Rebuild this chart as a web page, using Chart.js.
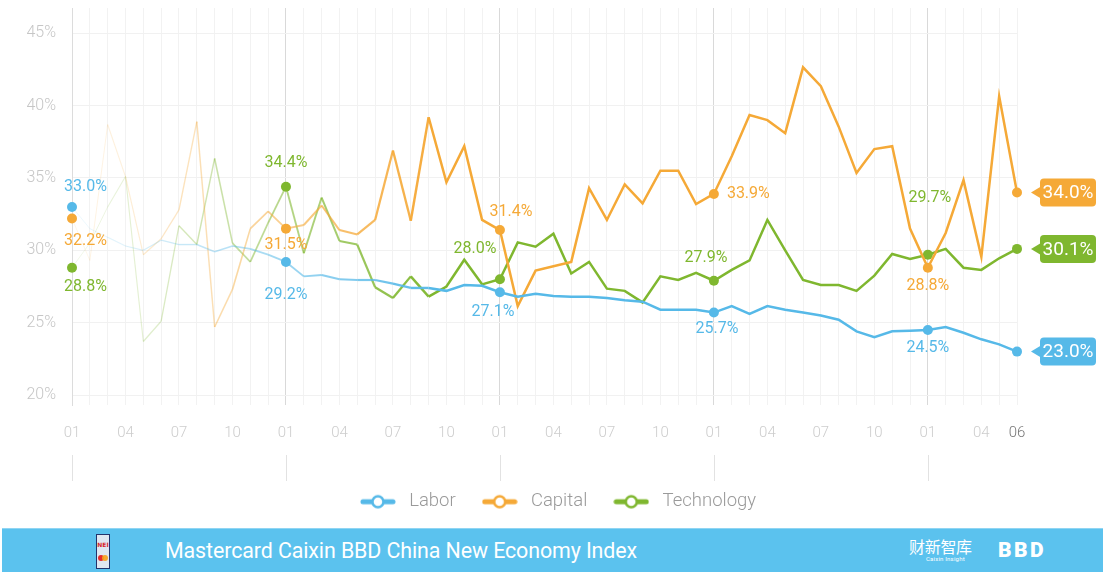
<!DOCTYPE html>
<html>
<head>
<meta charset="utf-8">
<title>China New Economy Index - input shares</title>
<script src="https://cdn.jsdelivr.net/npm/chart.js@4.4.0/dist/chart.umd.min.js"></script>
<style>
  body { margin: 0; width: 1103px; height: 572px; overflow: hidden; position: relative; background: #fff; font-family: Roboto, "Open Sans", sans-serif; }
  #wrap { position: absolute; left: 0; top: 0; width: 1103px; height: 528px; }
  #footer { position: absolute; left: 2px; top: 528px; width: 1101px; height: 44px; background: #5bc2ee; color: #fff; border-top: 1px solid #8fd5f3; box-sizing: border-box; }
  #footer .title { position: absolute; left: 163px; top: 0; line-height: 43px; font-size: 21.4px; font-weight: 400; letter-spacing: -0.1px; }
  #footer .badge { position: absolute; left: 94px; top: 5px; width: 12px; height: 33px; background: #dfe7f1; border: 1px solid #23336b; }
  #footer .badge .nei { position: absolute; left: 0; top: 6px; width: 12px; text-align: center; font: bold 6px "DejaVu Sans", sans-serif; color: #d8232a; }
  #footer .badge .mc { position: absolute; top: 20px; width: 6px; height: 6px; border-radius: 50%; }
  #footer .cx { position: absolute; left: 907px; top: 7px; font: 16px "Noto Sans CJK SC", sans-serif; line-height: 20px; letter-spacing: -0.3px; }
  #footer .cx small { position: absolute; left: 17px; top: 19px; font: 6px Roboto, sans-serif; letter-spacing: 0.2px; white-space: nowrap; }
  #footer .bbd { position: absolute; left: 996px; top: 0; font: 900 21px Roboto, sans-serif; line-height: 43px; letter-spacing: 2.5px; }
</style>
</head>
<body>
<div id="wrap"><canvas id="chart"></canvas></div>
<div id="footer">
  <div class="badge"><div class="nei">NEI</div><div class="mc" style="left:1px;background:#e52d2d"></div><div class="mc" style="left:5px;background:#f7a21b;opacity:0.9"></div></div>
  <div class="title">Mastercard Caixin BBD China New Economy Index</div>
  <div class="cx">财新智库<small>Caixin Insight</small></div>
  <div class="bbd">BBD</div>
</div>
<script>
/* globals Chart */

var months = [
  '01','02','03','04','05','06','07','08','09','10','11','12',
  '01','02','03','04','05','06','07','08','09','10','11','12',
  '01','02','03','04','05','06','07','08','09','10','11','12',
  '01','02','03','04','05','06','07','08','09','10','11','12',
  '01','02','03','04','05','06'
]

// share of each input in the index, %
var labor = [
  33.0, 31.5, 30.9, 30.3, 30.0, 30.7, 30.4, 30.4, 29.9, 30.3, 30.1, 29.7,
  29.2, 28.2, 28.3, 28.0, 27.95, 27.95, 27.7, 27.4, 27.4, 27.2, 27.6, 27.55,
  27.1, 26.8, 27.0, 26.85, 26.8, 26.8, 26.7, 26.55, 26.45, 25.9, 25.9, 25.9,
  25.7, 26.15, 25.6, 26.15, 25.9, 25.7, 25.5, 25.2, 24.4, 24.0, 24.4, 24.45,
  24.5, 24.7, 24.3, 23.85, 23.5, 23.0
]

var capital = [
  32.2, 29.3, 38.7, 35.1, 29.7, 30.8, 32.8, 38.9, 24.7, 27.3, 31.5, 32.7,
  31.5, 31.75, 33.1, 31.4, 31.1, 32.1, 36.9, 32.05, 39.2, 34.7, 37.2, 32.1,
  31.4, 26.15, 28.6, 28.9, 29.2, 34.3, 32.1, 34.55, 33.25, 35.5, 35.5, 33.2,
  33.9, 36.5, 39.35, 39.0, 38.1, 42.65, 41.35, 38.55, 35.35, 37.0, 37.2, 31.5,
  28.8, 31.2, 34.85, 29.55, 40.65, 34.0
]

var technology = [
  28.8, 30.5, 33.0, 35.1, 23.7, 25.1, 31.7, 30.4, 36.35, 30.5, 29.2, 31.9,
  34.4, 29.8, 33.65, 30.65, 30.4, 27.45, 26.7, 28.2, 26.8, 27.5, 29.35, 27.65,
  28.0, 30.55, 30.25, 31.15, 28.4, 29.2, 27.35, 27.2, 26.4, 28.2, 27.95, 28.45,
  27.9, 28.65, 29.3, 32.1, 30.0, 27.95, 27.6, 27.6, 27.2, 28.25, 29.75, 29.4,
  29.7, 30.1, 28.8, 28.65, 29.45, 30.1
]

var yTicks = [20, 25, 30, 35, 40, 45]
var markIndexes = [0, 12, 24, 36, 48, 53]
var yearStarts = [0, 12, 24, 36, 48]

const BLUE = '#56b9e8'
const ORANGE = '#f5a937'
const GREEN = '#7fb72f'

// where the value text sits around each marked point (offsets in px)
var labelSpots = [
  [ {i: 0, dx: -8, dy: -20, align: 'left'}, {i: 12, dx: 0, dy: 33}, {i: 24, dx: -7, dy: 20}, {i: 36, dx: 3, dy: 16}, {i: 48, dx: 0, dy: 18} ],
  [ {i: 0, dx: -8, dy: 22, align: 'left'}, {i: 12, dx: 0, dy: 16}, {i: 24, dx: 11, dy: -18}, {i: 36, dx: 13, dy: 0, align: 'left'}, {i: 48, dx: 0, dy: 18} ],
  [ {i: 0, dx: -8, dy: 19, align: 'left'}, {i: 12, dx: 0, dy: -24}, {i: 24, dx: -25, dy: -30}, {i: 36, dx: -8, dy: -23}, {i: 48, dx: 2, dy: -57} ]
]

function rgba(hex, a){
  var n = parseInt(hex.slice(1), 16)
  return 'rgba(' + (n >> 16) + ',' + ((n >> 8) & 255) + ',' + (n & 255) + ',' + a + ')'
}

// older months are drawn thinner and paler
function fadeAlpha(i){ return Math.min(1, 0.12 + 0.88 * Math.pow(i / 20, 1.2)) }
function fadeWidth(i){ return Math.min(2.5, 0.9 + 1.6 * i / 20) }

function legendIcon(color){
  var c = document.createElement('canvas')
  c.width = 36
  c.height = 16
  var g = c.getContext('2d')
  g.strokeStyle = color
  g.lineWidth = 5
  g.lineCap = 'round'
  g.beginPath(); g.moveTo(3, 8); g.lineTo(33, 8); g.stroke()
  g.fillStyle = '#fff'
  g.lineWidth = 2.5
  g.beginPath(); g.arc(18, 8, 5.5, 0, Math.PI * 2); g.fill(); g.stroke()
  return c
}

var legendIcons = [legendIcon(BLUE), legendIcon(ORANGE), legendIcon(GREEN)]

function series(label, data, color){
  return {
    label: label,
    data: data,
    borderColor: color,
    backgroundColor: color,
    borderWidth: 2.5,
    tension: 0,
    fill: false,
    pointRadius: ctx => markIndexes.indexOf(ctx.dataIndex) >= 0 ? 5 : 0,
    pointHoverRadius: ctx => markIndexes.indexOf(ctx.dataIndex) >= 0 ? 5 : 0,
    pointBorderWidth: 0,
    pointBackgroundColor: color,
    segment: {
      borderColor: ctx => rgba(color, fadeAlpha(ctx.p0DataIndex)),
      borderWidth: ctx => fadeWidth(ctx.p0DataIndex)
    }
  }
}

// value texts + end-of-line callouts
const valueLabels = {
  id: 'valueLabels',
  afterDatasetsDraw(chart){
    const ctx = chart.ctx
    chart.data.datasets.forEach((ds, d) => {
      const meta = chart.getDatasetMeta(d)
      const color = ds.borderColor
      ctx.save()
      ctx.font = '400 16px Roboto'
      ctx.fillStyle = color
      ctx.textBaseline = 'middle'
      labelSpots[d].forEach(spot => {
        const pt = meta.data[spot.i]
        ctx.textAlign = spot.align || 'center'
        ctx.fillText(ds.data[spot.i].toFixed(1) + '%', pt.x + spot.dx, pt.y + spot.dy)
      })

      const last = ds.data.length - 1
      const p = meta.data[last]
      const bw = 56, bh = 28
      const bx = p.x + 23, by = p.y - bh / 2
      ctx.beginPath()
      ctx.roundRect(bx, by, bw, bh, 4)
      ctx.fill()
      ctx.beginPath()
      ctx.moveTo(bx + 1, p.y - 6)
      ctx.lineTo(bx - 9, p.y)
      ctx.lineTo(bx + 1, p.y + 6)
      ctx.closePath()
      ctx.fill()
      ctx.fillStyle = '#fff'
      ctx.font = '400 19px Roboto'
      ctx.textAlign = 'center'
      ctx.fillText(ds.data[last].toFixed(1) + '%', bx + bw / 2, p.y + 1)
      ctx.restore()
    })
  }
}

// short year markers under the month labels
const yearBand = {
  id: 'yearBand',
  afterDraw(chart){
    const x = chart.scales.x
    const top = chart.chartArea.bottom + 50
    const ctx = chart.ctx
    ctx.save()
    ctx.strokeStyle = '#e2e2e2'
    ctx.lineWidth = 1
    yearStarts.forEach(i => {
      const px = Math.round(x.getPixelForValue(i)) + 0.5
      ctx.beginPath()
      ctx.moveTo(px, top)
      ctx.lineTo(px, top + 26)
      ctx.stroke()
    })
    ctx.restore()
  }
}

var chart = new Chart(document.getElementById('chart'), {
  type: 'line',
  data: {
    labels: months,
    datasets: [
      series('Labor', labor, BLUE),
      series('Capital', capital, ORANGE),
      series('Technology', technology, GREEN)
    ]
  },
  options: {
    responsive: true,
    maintainAspectRatio: false,
    animation: false,
    layout: { autoPadding: false, padding: { top: 8, left: 9, right: 0, bottom: 7 } },
    plugins: {
      tooltip: { enabled: false },
      legend: {
        position: 'bottom',
        labels: {
          usePointStyle: true,
          pointStyleWidth: 44,
          padding: 22,
          color: '#9a9a9a',
          font: { family: 'Roboto', size: 18.5, weight: '300' },
          generateLabels(chart){
            const items = Chart.defaults.plugins.legend.labels.generateLabels(chart)
            items.forEach((it, k) => { it.pointStyle = legendIcons[k] })
            return items
          }
        }
      }
    },
    scales: {
      x: {
        offset: false,
        border: { display: false },
        grid: {
          drawTicks: false,
          color: ctx => (ctx.index % 12 === 0) ? '#d9d9d9' : '#f2f2f2'
        },
        ticks: {
          autoSkip: false,
          maxRotation: 0,
          padding: 19,
          font: { family: 'Roboto', size: 15, weight: '300' },
          color: ctx => ctx.index === months.length - 1 ? '#777' : '#cdcdcd',
          callback: (val, idx) => (idx % 3 === 0 || idx === months.length - 1) ? months[idx] : ''
        },
        afterFit(scale){ scale.height = 65.5 }
      },
      y: {
        min: 19.31,
        max: 46.75,
        border: { display: true, color: '#dcdcdc' },
        grid: { drawTicks: false, color: '#f1f1f1' },
        afterBuildTicks(scale){ scale.ticks = yTicks.map(v => ({ value: v })) },
        ticks: {
          padding: 16,
          font: { family: 'Roboto', size: 16, weight: '300' },
          color: '#c6c6c6',
          callback: v => v + '%'
        },
        afterFit(scale){
          scale.width = 63
          // labels sit well inside the plot, no extra room needed above/below
          scale.paddingTop = 0
          scale.paddingBottom = 0
        }
      },
      // empty right-hand axis keeps room for the callouts
      y2: {
        position: 'right',
        display: true,
        border: { display: false },
        grid: { display: false },
        ticks: { display: false },
        afterFit(scale){ scale.width = 86 }
      }
    }
  },
  plugins: [valueLabels, yearBand]
})
</script>
</body>
</html>
